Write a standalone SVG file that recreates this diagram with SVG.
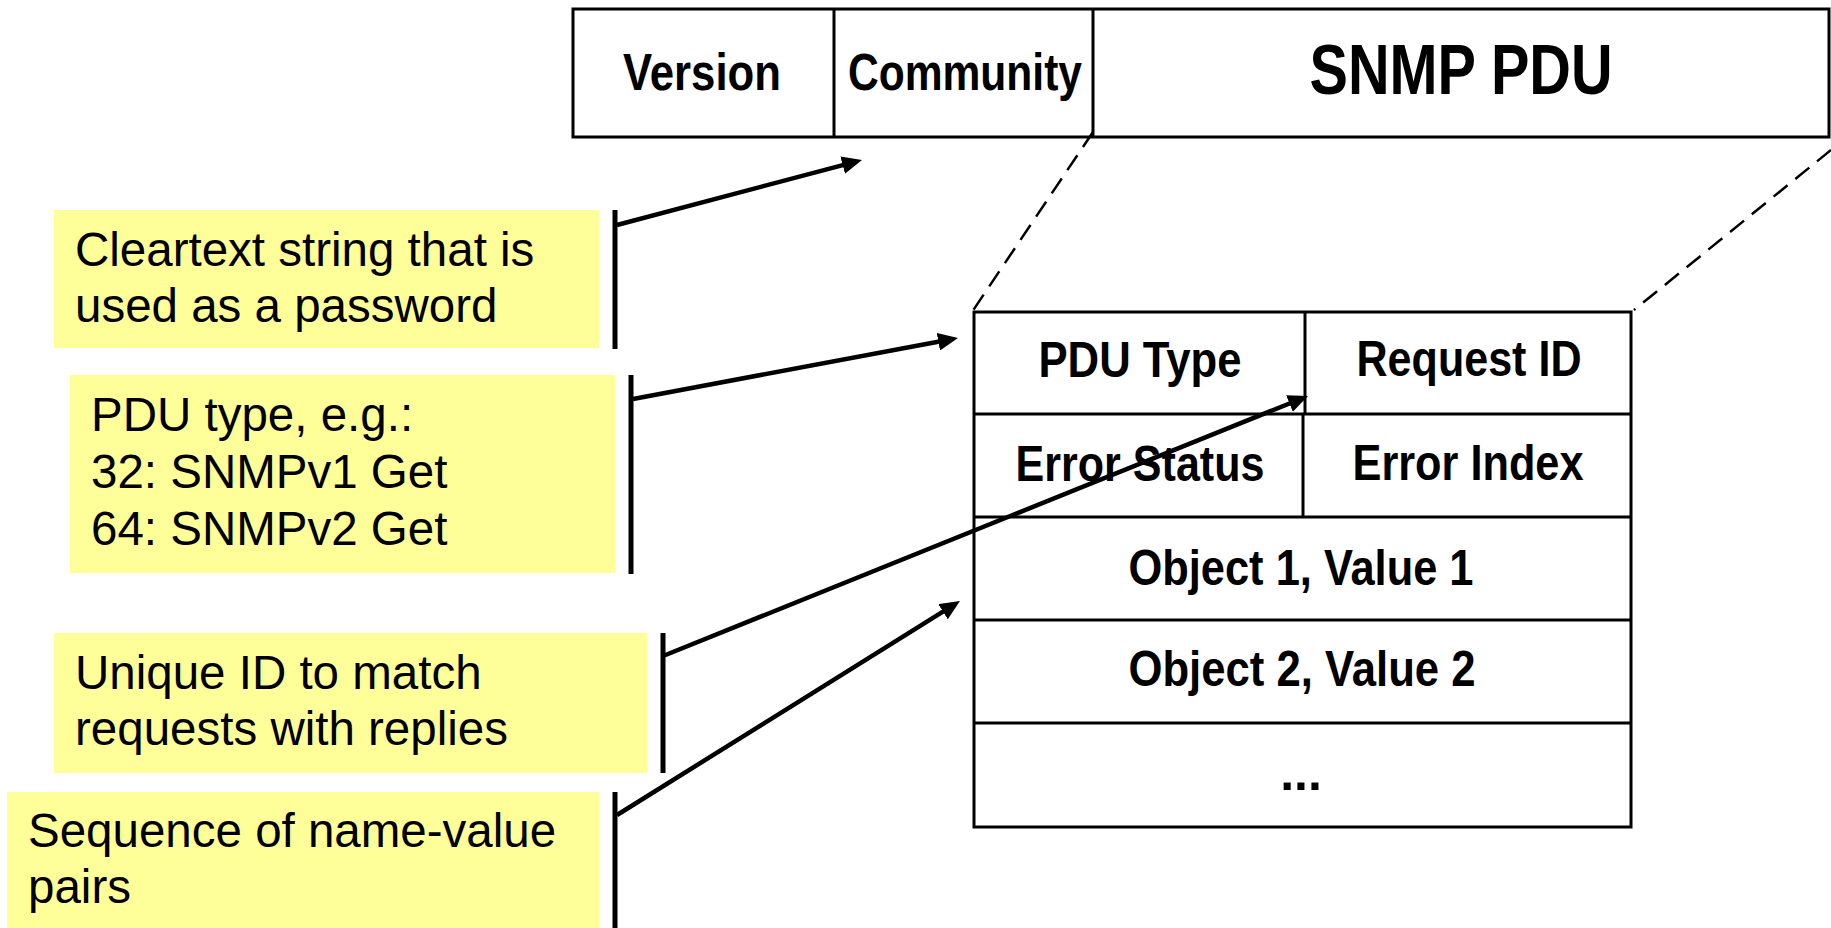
<svg xmlns="http://www.w3.org/2000/svg" width="1831" height="928" viewBox="0 0 1831 928">
  <style>
    .cell { fill: #ffffff; stroke: #000000; stroke-width: 3; }
    .rule { stroke: #000000; stroke-width: 3; fill: none; }
    .hd { font-family: "Liberation Sans Narrow", "Liberation Sans", Arial, sans-serif; font-weight: bold; fill: #000000; text-anchor: middle; }
    .note { fill: #FFFF99; stroke: none; }
    .nt { font-family: "Liberation Sans", Arial, sans-serif; font-size: 47.5px; fill: #000000; }
    .bracket { stroke: #000000; stroke-width: 5; fill: none; }
    .arrow { stroke: #000000; stroke-width: 4.5; fill: none; marker-end: url(#ah); }
    .dash { stroke: #000000; stroke-width: 2.5; fill: none; stroke-dasharray: 18 10; }
  </style>
  <defs>
    <marker id="ah" viewBox="0 0 20 18" refX="8" refY="9" markerWidth="20" markerHeight="18" markerUnits="userSpaceOnUse" orient="auto">
      <path d="M0,0 L20,9 L0,18 z" fill="#000000"/>
    </marker>
  </defs>

  <rect width="1831" height="928" fill="#ffffff"/>

  <!-- Message header row -->
  <g id="message">
    <rect class="cell" x="573" y="9" width="1256" height="128"/>
    <line class="rule" x1="834" y1="9" x2="834" y2="137"/>
    <line class="rule" x1="1093" y1="9" x2="1093" y2="137"/>
  </g>
  <g id="version">
    <text class="hd" x="702" y="90" font-size="52" textLength="158" lengthAdjust="spacingAndGlyphs">Version</text>
  </g>
  <g id="community">
    <text class="hd" x="965" y="90" font-size="52" textLength="234" lengthAdjust="spacingAndGlyphs">Community</text>
  </g>
  <g id="snmp-pdu">
    <text class="hd" x="1461" y="94" font-size="70" textLength="303" lengthAdjust="spacingAndGlyphs">SNMP PDU</text>
  </g>

  <!-- PDU detail table -->
  <g id="pdu-table">
    <rect class="cell" x="974" y="312" width="657" height="515"/>
    <line class="rule" x1="974" y1="414" x2="1631" y2="414"/>
    <line class="rule" x1="974" y1="517" x2="1631" y2="517"/>
    <line class="rule" x1="974" y1="620" x2="1631" y2="620"/>
    <line class="rule" x1="974" y1="723" x2="1631" y2="723"/>
    <line class="rule" x1="1305" y1="312" x2="1305" y2="414"/>
    <line class="rule" x1="1303" y1="414" x2="1303" y2="517"/>
  </g>
  <g id="pdu-type">
    <text class="hd" x="1140" y="377" font-size="50" textLength="203" lengthAdjust="spacingAndGlyphs">PDU Type</text>
  </g>
  <g id="request-id">
    <text class="hd" x="1469" y="376" font-size="50" textLength="225" lengthAdjust="spacingAndGlyphs">Request ID</text>
  </g>
  <g id="error-status">
    <text class="hd" x="1140" y="481" font-size="50" textLength="249" lengthAdjust="spacingAndGlyphs">Error Status</text>
  </g>
  <g id="error-index">
    <text class="hd" x="1468" y="480" font-size="50" textLength="231" lengthAdjust="spacingAndGlyphs">Error Index</text>
  </g>
  <g id="object1">
    <text class="hd" x="1301" y="585" font-size="50" textLength="345" lengthAdjust="spacingAndGlyphs">Object 1, Value 1</text>
  </g>
  <g id="object2">
    <text class="hd" x="1302" y="686" font-size="50" textLength="347" lengthAdjust="spacingAndGlyphs">Object 2, Value 2</text>
  </g>
  <g id="more">
    <text class="hd" x="1301" y="790" font-size="50">...</text>
  </g>

  <!-- Notes -->
  <g id="note-community">
    <rect class="note" x="54" y="210" width="545" height="138"/>
    <text class="nt" x="75" y="266">Cleartext string that is</text>
    <text class="nt" x="75" y="322">used as a password</text>
  </g>
  <g id="note-pdutype">
    <rect class="note" x="70" y="375" width="545" height="198"/>
    <text class="nt" x="91" y="431">PDU type, e.g.:</text>
    <text class="nt" x="91" y="488">32: SNMPv1 Get</text>
    <text class="nt" x="91" y="545">64: SNMPv2 Get</text>
  </g>
  <g id="note-requestid">
    <rect class="note" x="54" y="633" width="593" height="140"/>
    <text class="nt" x="75" y="689">Unique ID to match</text>
    <text class="nt" x="75" y="745">requests with replies</text>
  </g>
  <g id="note-varbinds">
    <rect class="note" x="7" y="792" width="592" height="136"/>
    <text class="nt" x="28" y="847">Sequence of name-value</text>
    <text class="nt" x="28" y="903">pairs</text>
  </g>

  <!-- Connectors -->
  <g id="connectors">
    <line class="dash" x1="1093" y1="132" x2="972" y2="312"/>
    <line class="dash" x1="1831" y1="150" x2="1634" y2="310"/>

    <line class="bracket" x1="615" y1="210" x2="615" y2="349"/>
    <line class="bracket" x1="631" y1="375" x2="631" y2="574"/>
    <line class="bracket" x1="663" y1="633" x2="663" y2="773"/>
    <line class="bracket" x1="615" y1="792" x2="615" y2="928"/>

    <line class="arrow" x1="617" y1="225" x2="850.4" y2="163.1"/>
    <line class="arrow" x1="633" y1="399" x2="946.2" y2="340.2"/>
    <line class="arrow" x1="663" y1="656" x2="1296.9" y2="400.5"/>
    <line class="arrow" x1="617" y1="815" x2="949.8" y2="607.4"/>
  </g>
</svg>
